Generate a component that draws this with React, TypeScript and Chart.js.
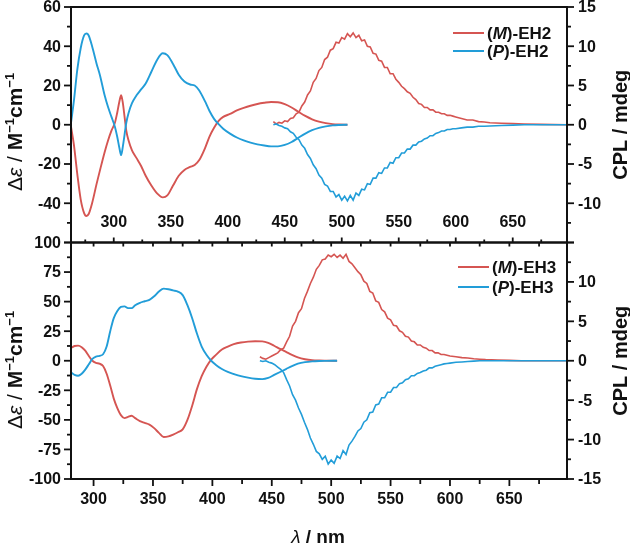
import React, { useEffect, useRef } from 'react';
import { Chart, registerables } from 'chart.js';
Chart.register(...registerables);

// ---------- DATA ----------
// Top panel (EH2) CD spectra, left axis
const cdWl2 = [262.5, 265, 268, 271, 274, 276, 278, 281, 285, 288, 292, 295, 298, 301, 303, 305, 306.5, 308, 309.5, 311, 313, 316, 320, 324, 328, 333, 338, 343, 347, 352, 357, 362, 367, 371, 375, 380, 384, 388, 392, 396, 402, 408, 414, 420, 426, 432, 438, 444, 450, 456, 462, 468, 474, 480, 486, 492, 498, 505];
const cdM2 = [-1, -10, -25, -38, -45, -46.5, -45.5, -40, -30, -23, -14, -8, -3, 1, 6, 12, 15, 11, 4, -3, -8, -13, -17, -21, -26, -31, -35, -37, -36, -31, -26, -23, -21.5, -20.5, -18, -12, -6, -1.5, 2, 4, 5.5, 7.3, 8.6, 9.7, 10.6, 11.2, 11.6, 11.5, 10.5, 8.8, 6.6, 4.5, 2.8, 1.6, 0.8, 0.3, 0.1, 0];
const cdP2 = [1, 12, 28, 39, 45.5, 46.5, 45.5, 40, 31, 25, 15, 9, 4, -1, -6, -12, -15.5, -11, -5, 1, 6, 11, 15, 18, 21, 27, 33, 36.4, 35.5, 31, 25.5, 22, 20.5, 20, 17.5, 12, 7, 3, 0.3, -2, -4.5, -6.5, -8, -9.1, -10, -10.6, -11, -11, -10.3, -8.8, -6.6, -4.5, -2.8, -1.6, -0.8, -0.3, -0.1, 0];
// Top panel (EH2) CPL spectra, right axis
const cplWl2 = [440, 442.5, 445, 447.5, 450, 452.5, 455, 457.5, 460, 462.5, 465, 467.5, 470, 472.5, 475, 477.5, 480, 482.5, 485, 487.5, 490, 492.5, 495, 497.5, 500, 502.5, 505, 507.5, 510, 512.5, 515, 517.5, 520, 522.5, 525, 527.5, 530, 532.5, 535, 537.5, 540, 542.5, 545, 547.5, 550, 552.5, 555, 557.5, 560, 562.5, 565, 567.5, 570, 572.5, 575, 577.5, 580, 582.5, 585, 587.5, 590, 592.5, 595, 597.5, 600, 605, 610, 615, 620, 625, 630, 640, 650, 660, 675, 698];
const cplM2 = [0.4, 0.1, 0.3, 0.2, 0.5, 0.4, 0.8, 0.9, 1.4, 1.6, 2.4, 2.9, 3.8, 4.3, 5.4, 5.9, 6.9, 7.3, 8.3, 8.6, 9.5, 9.7, 10.5, 10.4, 11.1, 10.9, 11.6, 11.2, 11.7, 11.1, 11.4, 10.7, 10.8, 10.0, 9.9, 9.1, 9.0, 8.2, 8.1, 7.3, 7.3, 6.5, 6.5, 5.8, 5.4, 4.9, 4.6, 4.2, 4.0, 3.5, 3.2, 2.7, 2.6, 2.2, 2.2, 1.9, 1.9, 1.6, 1.6, 1.4, 1.4, 1.2, 1.2, 1.1, 1.0, 0.8, 0.6, 0.6, 0.4, 0.35, 0.25, 0.2, 0.15, 0.1, 0.05, 0];
const cplP2 = [0, 0.1, -0.1, -0.2, -0.4, -0.5, -0.9, -1.1, -1.6, -1.9, -2.6, -3.0, -3.8, -4.3, -5.1, -5.6, -6.4, -6.8, -7.6, -7.8, -8.5, -8.5, -9.2, -8.9, -9.6, -9.1, -9.7, -9.0, -9.6, -8.7, -9.0, -8.2, -8.3, -7.5, -7.6, -6.8, -6.8, -6.1, -6.2, -5.5, -5.5, -4.8, -4.9, -4.2, -4.2, -3.6, -3.6, -3.1, -3.1, -2.6, -2.6, -2.2, -2.1, -1.8, -1.7, -1.4, -1.4, -1.1, -1.0, -0.8, -0.8, -0.6, -0.6, -0.5, -0.5, -0.4, -0.3, -0.3, -0.2, -0.2, -0.15, -0.1, -0.05, 0, 0, 0];

// Bottom panel (EH3) CD spectra, left axis
const cdWl3 = [281, 284, 287, 290, 293, 296, 299, 302, 305, 308, 311, 314, 317, 320, 323, 326, 329, 332, 335, 339, 343, 347, 351, 355, 359, 363, 367, 371, 375, 379, 383, 387, 391, 395, 399, 403, 408, 413, 418, 424, 430, 436, 442, 447, 452, 457, 462, 467, 472, 478, 484, 490, 496, 505];
const cdM3 = [10.7, 12.5, 12.8, 11.5, 8.5, 4.0, 0.0, -1.8, -2.5, -4.5, -11, -21, -32, -40, -46, -48.5, -47.5, -46.5, -48.5, -51, -52.5, -54, -57, -61, -64.5, -64, -62.5, -60.5, -58, -50, -38, -24, -13, -5, 1, 5, 9.5, 12, 14, 15.4, 16.2, 16.5, 16.4, 15.2, 12.7, 10, 7.5, 5, 2.8, 1.3, 0.5, 0.2, 0.1, 0];
const cdP3 = [-9.9, -12, -12.7, -11, -7.5, -3, 1.5, 3.5, 4.2, 5.5, 12, 25, 36, 42, 45.5, 46, 44.5, 44.5, 47, 49, 50.3, 51.5, 54.5, 58.5, 61, 60.5, 59.5, 58.5, 55.5, 47, 36, 23, 12, 5, 0, -3.5, -7, -9.5, -11.2, -13, -14.3, -15.2, -15.5, -14.5, -12, -9.5, -7, -4.5, -2.5, -1.2, -0.5, -0.2, -0.1, 0];
// Bottom panel (EH3) CPL spectra, right axis
const cplWl3 = [440, 442.5, 445, 447.5, 450, 452.5, 455, 457.5, 460, 462.5, 465, 467.5, 470, 472.5, 475, 477.5, 480, 482.5, 485, 487.5, 490, 492.5, 495, 497.5, 500, 502.5, 505, 507.5, 510, 512.5, 515, 517.5, 520, 522.5, 525, 527.5, 530, 532.5, 535, 537.5, 540, 542.5, 545, 547.5, 550, 552.5, 555, 557.5, 560, 562.5, 565, 567.5, 570, 572.5, 575, 577.5, 580, 582.5, 585, 587.5, 590, 592.5, 595, 597.5, 600, 605, 610, 615, 620, 625, 630, 640, 650, 660, 675, 698];
const cplM3 = [0.5, 0.3, 0.2, 0.4, 0.6, 0.8, 1.0, 1.4, 1.6, 2.4, 3.1, 4.4, 5.0, 6.1, 6.6, 7.9, 8.8, 9.8, 10.6, 11.6, 12.1, 12.8, 12.9, 13.4, 13.2, 13.5, 13.1, 13.4, 13.0, 13.5, 12.6, 12.3, 11.8, 11.3, 10.9, 10.1, 9.8, 8.8, 8.6, 7.6, 7.4, 6.5, 6.2, 5.4, 5.2, 4.5, 4.4, 3.8, 3.6, 3.1, 3.0, 2.5, 2.4, 2.0, 2.0, 1.7, 1.6, 1.3, 1.3, 1.0, 1.0, 0.8, 0.8, 0.7, 0.6, 0.5, 0.4, 0.35, 0.25, 0.2, 0.15, 0.1, 0.05, 0, 0, 0];
const cplP3 = [0, -0.1, 0, -0.2, -0.3, -0.5, -0.8, -1.1, -1.5, -2.4, -3.2, -4.3, -5.0, -6.0, -6.8, -7.8, -8.7, -9.8, -10.6, -11.5, -11.8, -12.5, -12.1, -13.1, -12.6, -13.0, -12.1, -12.4, -11.4, -11.9, -10.7, -10.2, -9.6, -8.9, -8.6, -7.8, -7.5, -6.6, -6.5, -5.6, -5.5, -4.7, -4.7, -4.0, -4.0, -3.4, -3.4, -2.9, -2.8, -2.4, -2.3, -1.9, -1.9, -1.6, -1.5, -1.3, -1.2, -0.9, -0.9, -0.7, -0.6, -0.5, -0.4, -0.35, -0.3, -0.2, -0.15, -0.1, -0.05, 0, 0, 0, 0, 0, 0, 0];

// Ticks
const xTickLabels = [300, 350, 400, 450, 500, 550, 600, 650];
const xTicksAll = [275, 300, 325, 350, 375, 400, 425, 450, 475, 500, 525, 550, 575, 600, 625, 650, 675];
const topLeftTicks = [-60, -40, -20, 0, 20, 40, 60];
const topLeftLabels = [60, 40, 20, 0, -20, -40];
const topRightTicks = [-15, -10, -5, 0, 5, 10, 15];
const topRightLabels = [15, 10, 5, 0, -5, -10];
const botLeftTicks = [-100, -75, -50, -25, 0, 25, 50, 75, 100];
const botLeftLabels = [100, 75, 50, 25, 0, -25, -50, -75, -100];
const botRightTicks = [-15, -10, -5, 0, 5, 10, 15];
const botRightLabels = [10, 5, 0, -5, -10, -15];

const legendTop = ['EH2', 'EH2'];
const legendBot = ['EH3', 'EH3'];

// ---------- STYLE ----------
const RED = '#d55552';
const BLUE = '#229dd8';
const FONT = '"Liberation Sans", Arial, Helvetica, sans-serif';
const W = 630;
const H = 548;

const zip = (xs: number[], ys: number[]) => xs.map((x, i) => ({ x, y: ys[i] }));

type Part = { t: string; b?: boolean; i?: boolean; sup?: boolean };

function drawRich(ctx: CanvasRenderingContext2D, parts: Part[], size: number, x: number, y: number, align: 'left' | 'center') {
  const fontOf = (p: Part) => `${p.i ? 'italic ' : ''}${p.b ? 'bold ' : ''}${p.sup ? Math.round(size * 0.62) : size}px ${FONT}`;
  let total = 0;
  for (const p of parts) { ctx.font = fontOf(p); total += ctx.measureText(p.t).width; }
  let cx = align === 'center' ? x - total / 2 : x;
  ctx.textAlign = 'left';
  ctx.textBaseline = 'alphabetic';
  for (const p of parts) {
    ctx.font = fontOf(p);
    ctx.fillText(p.t, cx, y + (p.sup ? -size * 0.38 : 0));
    cx += ctx.measureText(p.t).width;
  }
}

type PanelCfg = {
  id: string;
  leftTicks: number[]; leftLabels: number[];
  rightTicks: number[]; rightLabels: number[];
  xInsideBottom: boolean;
  xOutsideBottom: boolean;
  titleY: number;
  legend: string[];
  legendX: number; legendY: number; legendGap: number;
};

function minorsOf(ticks: number[]) {
  const out: number[] = [];
  for (let i = 0; i < ticks.length - 1; i++) out.push((ticks[i] + ticks[i + 1]) / 2);
  return out;
}

function makePlugin(cfg: PanelCfg) {
  return {
    id: 'frame_' + cfg.id,
    afterDraw(chart: any) {
      const ctx: CanvasRenderingContext2D = chart.ctx;
      const a = chart.chartArea;
      const sx = chart.scales.x, yl = chart.scales.yL, yr = chart.scales.yR;
      ctx.save();
      ctx.strokeStyle = '#111';
      ctx.fillStyle = '#111';
      ctx.lineWidth = 1.8;
      const tick = (x1: number, y1: number, x2: number, y2: number) => {
        ctx.beginPath(); ctx.moveTo(x1, y1); ctx.lineTo(x2, y2); ctx.stroke();
      };
      for (const v of cfg.leftTicks) { const y = yl.getPixelForValue(v); tick(a.left - 7, y, a.left, y); }
      for (const v of minorsOf(cfg.leftTicks)) { const y = yl.getPixelForValue(v); tick(a.left - 4, y, a.left, y); }
      for (const v of cfg.rightTicks) { const y = yr.getPixelForValue(v); tick(a.right, y, a.right + 7, y); }
      for (const v of minorsOf(cfg.rightTicks)) { const y = yr.getPixelForValue(v); tick(a.right, y, a.right + 4, y); }
      for (const v of xTicksAll) {
        if (v < sx.min || v > sx.max) continue;
        const x = sx.getPixelForValue(v);
        const major = xTickLabels.includes(v);
        if (cfg.xInsideBottom) tick(x, a.bottom - (major ? 5 : 3), x, a.bottom);
        if (cfg.xOutsideBottom) {
          tick(x, a.bottom, x, a.bottom + (major ? 7 : 5));
          tick(x, a.top, x, a.top + 4);
        }
      }
      ctx.lineWidth = 2;
      ctx.strokeRect(a.left, a.top, a.right - a.left, a.bottom - a.top);

      // tick labels
      ctx.font = `bold 16px ${FONT}`;
      ctx.textBaseline = 'middle';
      ctx.textAlign = 'right';
      for (const v of cfg.leftLabels) ctx.fillText(String(v), a.left - 10, yl.getPixelForValue(v) + 1);
      ctx.textAlign = 'left';
      for (const v of cfg.rightLabels) ctx.fillText(String(v), a.right + 11, yr.getPixelForValue(v) + 1);
      ctx.textAlign = 'center';
      for (const v of xTickLabels) {
        const x = sx.getPixelForValue(v);
        if (cfg.xInsideBottom) ctx.fillText(String(v), x, a.bottom - 20);
        if (cfg.xOutsideBottom) ctx.fillText(String(v), x, a.bottom + 21);
      }

      // axis titles
      ctx.save();
      ctx.translate(22, cfg.titleY);
      ctx.rotate(-Math.PI / 2);
      drawRich(ctx, [
        { t: 'Δ' }, { t: 'ε', i: true }, { t: ' / ' }, { t: 'M', b: true }, { t: '−1', b: true, sup: true },
        { t: 'cm', b: true }, { t: '−1', b: true, sup: true },
      ], 21, 0, 0, 'center');
      ctx.restore();
      ctx.save();
      ctx.translate(627, (a.top + a.bottom) / 2);
      ctx.rotate(-Math.PI / 2);
      drawRich(ctx, [{ t: 'CPL / mdeg', b: true }], 20, 0, 0, 'center');
      ctx.restore();

      if (cfg.xOutsideBottom) {
        drawRich(ctx, [{ t: 'λ', i: true }, { t: ' / nm', b: true }], 19, (a.left + a.right) / 2 - 1, 543, 'center');
      }

      // legend
      const rows: [string, string, string][] = [[RED, 'M', cfg.legend[0]], [BLUE, 'P', cfg.legend[1]]];
      rows.forEach(([col, h, name], i) => {
        const y = cfg.legendY + i * cfg.legendGap;
        ctx.strokeStyle = col; ctx.lineWidth = 2;
        tick(cfg.legendX, y, cfg.legendX + 31, y);
        ctx.fillStyle = '#111';
        drawRich(ctx, [{ t: '(', b: true }, { t: h, b: true, i: true }, { t: ')-' + name, b: true }], 17, cfg.legendX + 34, y + 6, 'left');
      });
      ctx.restore();
    },
  };
}

function makeConfig(opts: {
  xMin: number; xMax: number; yLMin: number; yLMax: number; yRMin: number; yRMax: number;
  padTop: number; padBottom: number;
  cdWl: number[]; cdM: number[]; cdP: number[]; cplWl: number[]; cplM: number[]; cplP: number[];
  cfg: PanelCfg;
}): any {
  const cdLine = { borderWidth: 1.9, pointRadius: 0, cubicInterpolationMode: 'monotone', yAxisID: 'yL', fill: false };
  const cplLine = { borderWidth: 1.6, pointRadius: 0, tension: 0, yAxisID: 'yR', fill: false };
  return {
    type: 'line',
    data: {
      datasets: [
        { ...cplLine, label: 'P CPL', data: zip(opts.cplWl, opts.cplP), borderColor: BLUE },
        { ...cdLine, label: 'P CD', data: zip(opts.cdWl, opts.cdP), borderColor: BLUE },
        { ...cplLine, label: 'M CPL', data: zip(opts.cplWl, opts.cplM), borderColor: RED },
        { ...cdLine, label: 'M CD', data: zip(opts.cdWl, opts.cdM), borderColor: RED },
      ],
    },
    options: {
      responsive: false,
      animation: false,
      events: [],
      layout: { padding: { left: 71, right: 63, top: opts.padTop, bottom: opts.padBottom } },
      plugins: { legend: { display: false }, tooltip: { enabled: false }, title: { display: false } },
      scales: {
        x: { type: 'linear', min: opts.xMin, max: opts.xMax, display: false },
        yL: { type: 'linear', position: 'left', min: opts.yLMin, max: opts.yLMax, display: false },
        yR: { type: 'linear', position: 'right', min: opts.yRMin, max: opts.yRMax, display: false },
      },
    },
    plugins: [makePlugin(opts.cfg)],
  };
}

export default function App() {
  const c1 = useRef<HTMLCanvasElement>(null);
  const c2 = useRef<HTMLCanvasElement>(null);
  useEffect(() => {
    const top = new Chart(c1.current as HTMLCanvasElement, makeConfig({
      xMin: 262.5, xMax: 697.6, yLMin: -60, yLMax: 60, yRMin: -15, yRMax: 15,
      padTop: 7, padBottom: H - 242.5,
      cdWl: cdWl2, cdM: cdM2, cdP: cdP2, cplWl: cplWl2, cplM: cplM2, cplP: cplP2,
      cfg: {
        id: 'top', leftTicks: topLeftTicks, leftLabels: topLeftLabels,
        rightTicks: topRightTicks, rightLabels: topRightLabels,
        xInsideBottom: true, xOutsideBottom: false, titleY: 132,
        legend: legendTop, legendX: 453, legendY: 33, legendGap: 18,
      },
    }));
    const bot = new Chart(c2.current as HTMLCanvasElement, makeConfig({
      xMin: 281, xMax: 698.5, yLMin: -100, yLMax: 100, yRMin: -15, yRMax: 15,
      padTop: 242.5, padBottom: H - 479,
      cdWl: cdWl3, cdM: cdM3, cdP: cdP3, cplWl: cplWl3, cplM: cplM3, cplP: cplP3,
      cfg: {
        id: 'bot', leftTicks: botLeftTicks, leftLabels: botLeftLabels,
        rightTicks: botRightTicks, rightLabels: botRightLabels,
        xInsideBottom: false, xOutsideBottom: true, titleY: 370,
        legend: legendBot, legendX: 458, legendY: 267, legendGap: 20,
      },
    }));
    return () => { top.destroy(); bot.destroy(); };
  }, []);
  const cs: React.CSSProperties = { position: 'absolute', left: 0, top: 0, width: W, height: H };
  return (
    <div style={{ position: 'fixed', left: 0, top: 0, width: W, height: H, background: '#fff' }}>
      <canvas ref={c1} width={W} height={H} style={cs} />
      <canvas ref={c2} width={W} height={H} style={cs} />
    </div>
  );
}
